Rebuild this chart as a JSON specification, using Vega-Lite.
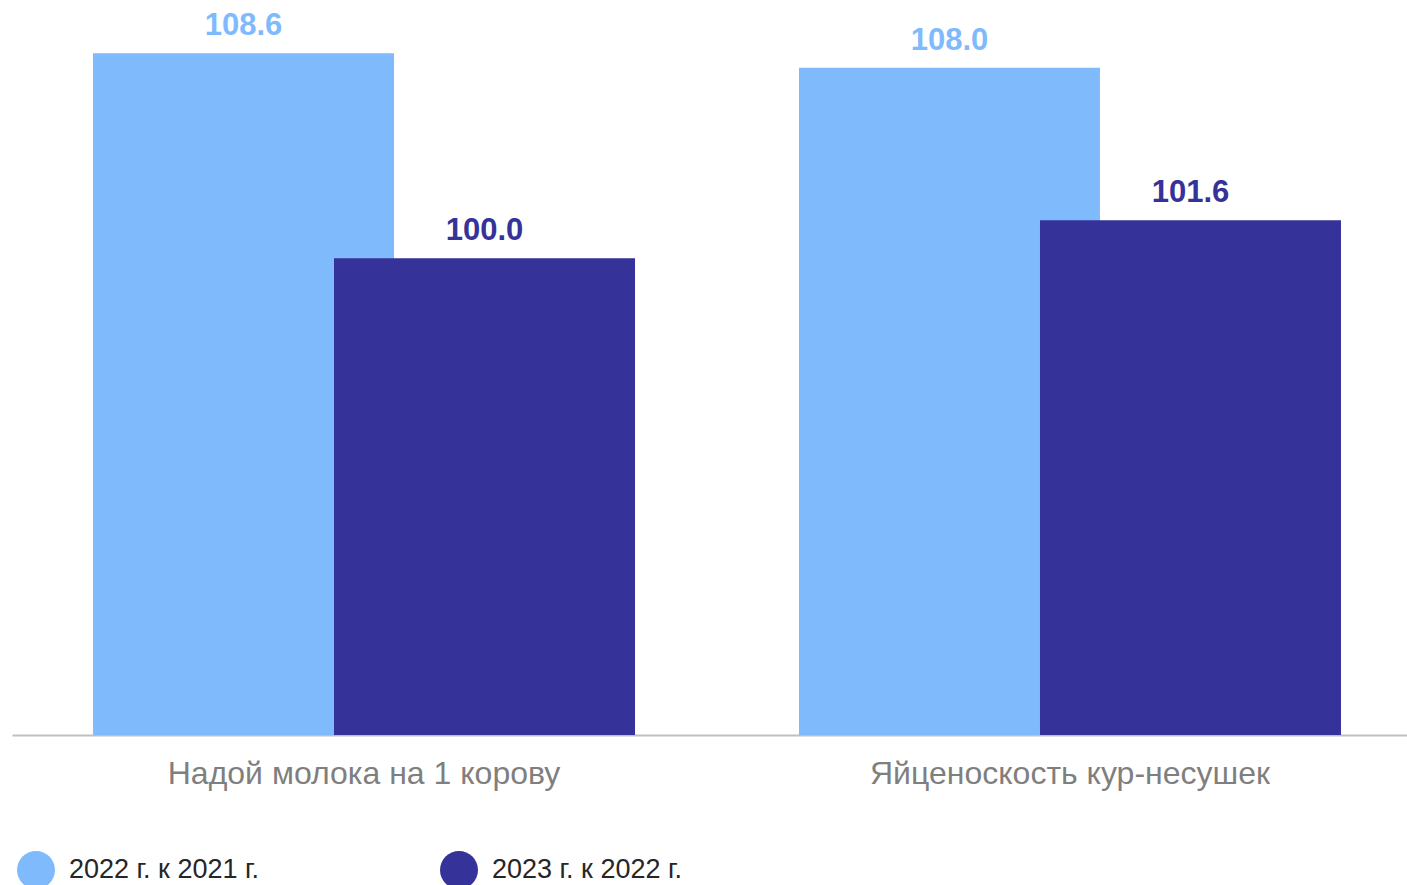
{
  "$schema": "https://vega.github.io/schema/vega-lite/v6.json",
  "autosize": {"type": "none"},
  "width": 1395,
  "height": 715,
  "padding": {"left": 12, "top": 20, "right": 0, "bottom": 150},
  "background": "white",
  "config": {"view": {"stroke": null}, "font": "Liberation Sans"},
  "data": {
    "values": [
      {"category": "Надой молока на 1 корову", "series": "2022 г. к 2021 г.", "value": 108.6},
      {"category": "Надой молока на 1 корову", "series": "2023 г. к 2022 г.", "value": 100.0},
      {"category": "Яйценоскость кур-несушек", "series": "2022 г. к 2021 г.", "value": 108.0},
      {"category": "Яйценоскость кур-несушек", "series": "2023 г. к 2022 г.", "value": 101.6}
    ]
  },
  "encoding": {
    "x": {
      "field": "category", "type": "nominal", "sort": null,
      "scale": {"paddingInner": 0.024, "paddingOuter": 0},
      "axis": {
        "title": null, "labelAngle": 0, "ticks": false,
        "domainColor": "#bfbfbf", "domainWidth": 2,
        "labelFont": "Liberation Sans", "labelFontSize": 32, "labelColor": "#7f7f7f",
        "labelPadding": 23, "labelOffset": 7.5, "labelLimit": 800
      }
    },
    "y": {
      "field": "value", "type": "quantitative",
      "scale": {"domain": [80, 110], "zero": false, "nice": false},
      "axis": null
    },
    "color": {
      "field": "series", "type": "nominal",
      "scale": {"domain": ["2022 г. к 2021 г.", "2023 г. к 2022 г."], "range": ["#7fbbfc", "#35329a"]},
      "legend": {
        "title": null, "orient": "none", "legendX": 5, "legendY": 831,
        "direction": "horizontal", "symbolType": "circle", "symbolSize": 1444,
        "symbolStrokeWidth": 0, "labelFont": "Liberation Sans",
        "labelFontSize": 27, "labelColor": "#262626", "labelOffset": 14,
        "columnPadding": 180, "labelLimit": 400
      }
    }
  },
  "layer": [
    {
      "transform": [{"filter": "datum.series === '2022 г. к 2021 г.'"}],
      "mark": {"type": "bar", "width": 301, "xOffset": -113},
      "encoding": {"y2": {"datum": 80}}
    },
    {
      "transform": [{"filter": "datum.series === '2023 г. к 2022 г.'"}],
      "mark": {"type": "bar", "width": 301, "xOffset": 128},
      "encoding": {"y2": {"datum": 80}}
    },
    {
      "transform": [{"filter": "datum.series === '2022 г. к 2021 г.'"}],
      "mark": {"type": "text", "dx": -113, "dy": -18, "baseline": "alphabetic", "fontSize": 31, "fontWeight": "bold", "font": "Liberation Sans"},
      "encoding": {"text": {"field": "value", "type": "quantitative", "format": ".1f"}}
    },
    {
      "transform": [{"filter": "datum.series === '2023 г. к 2022 г.'"}],
      "mark": {"type": "text", "dx": 128, "dy": -18, "baseline": "alphabetic", "fontSize": 31, "fontWeight": "bold", "font": "Liberation Sans"},
      "encoding": {"text": {"field": "value", "type": "quantitative", "format": ".1f"}}
    }
  ]
}
